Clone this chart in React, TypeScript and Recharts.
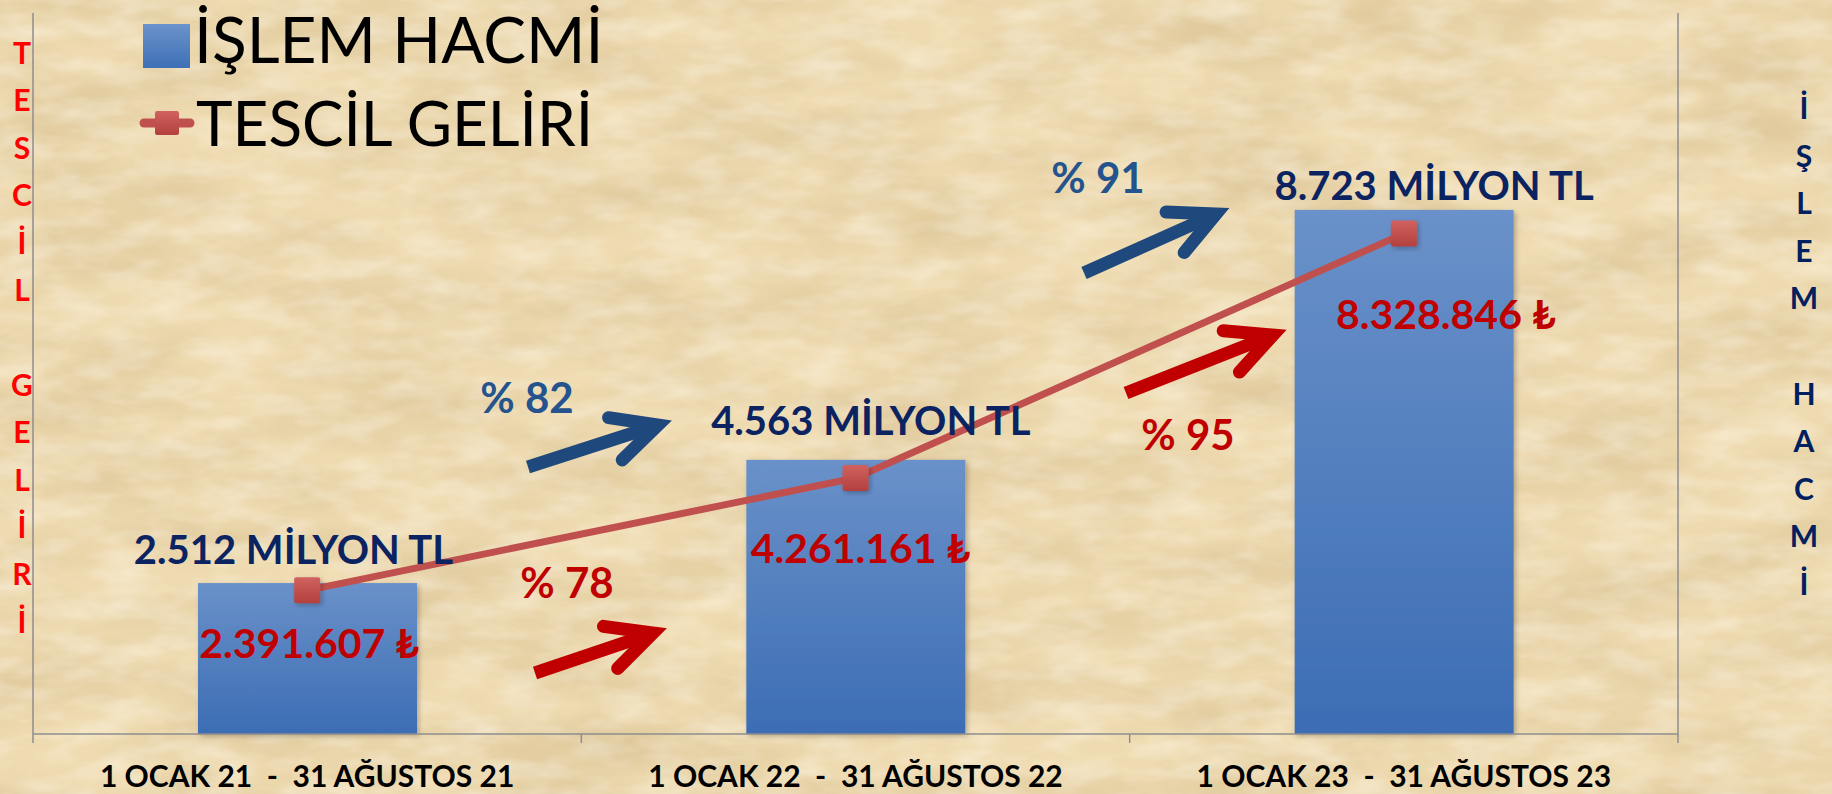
import React from 'react';
import { ComposedChart, Bar, Line, XAxis, YAxis, Legend, LabelList, Customized } from 'recharts';

// dönemler
const periods = [
  '1 OCAK 21  -  31 AĞUSTOS 21',
  '1 OCAK 22  -  31 AĞUSTOS 22',
  '1 OCAK 23  -  31 AĞUSTOS 23',
];
// işlem hacmi (milyon TL)
const islemHacmi = [2512, 4563, 8723];
// tescil geliri (TL)
const tescilGeliri = [2391607, 4261161, 8328846];
// dönemden döneme artış (%)
const hacimArtis = [82, 91];
const gelirArtis = [78, 95];

const gelirTicks = [0, 2000000, 4000000, 6000000, 8000000, 10000000, 12000000];
const hacimTicks = Array.from({ length: 121 }, (_, i) => i * 100);

const data = periods.map((period, i) => ({
  period,
  hacim: islemHacmi[i],
  gelir: tescilGeliri[i],
}));

const W = 1832;
const H = 794;
const LEFT_AXIS = 33;
const RIGHT_AXIS = 154;
const BAND = (W - LEFT_AXIS - RIGHT_AXIS) / periods.length;
const FONT = "Lato, 'DejaVu Sans', sans-serif";
const AXIS_GREY = '#8E8E8E';
const NAVY = '#0B2461';
const RED = '#C00000';
const BLUE = '#1F497D';

const paperSvg =
  "<svg xmlns='http://www.w3.org/2000/svg' width='1832' height='794'>" +
  "<filter id='f'><feTurbulence type='fractalNoise' baseFrequency='0.006 0.018' numOctaves='5' seed='7'/>" +
  "<feColorMatrix type='matrix' values='0 0 0 0 0.62  0 0 0 0 0.47  0 0 0 0 0.24  0.9 0 0 0 -0.3'/></filter>" +
  "<filter id='g'><feTurbulence type='fractalNoise' baseFrequency='0.02 0.05' numOctaves='3' seed='2'/>" +
  "<feColorMatrix type='matrix' values='0 0 0 0 1  0 0 0 0 0.97  0 0 0 0 0.88  0.8 0 0 0 -0.3'/></filter>" +
  "<rect width='100%' height='100%' fill='#EFDBB1'/>" +
  "<rect width='100%' height='100%' filter='url(#f)'/>" +
  "<rect width='100%' height='100%' filter='url(#g)'/>" +
  '</svg>';
const paper = `url("data:image/svg+xml,${encodeURIComponent(paperSvg)}")`;

// label nudges
const hacimLabelShift = [
  { dx: -14, dy: -34 },
  { dx: 15, dy: -40 },
  { dx: 30, dy: -25 },
];
const gelirLabelShift = [
  { dx: 2, dy: 52 },
  { dx: 5, dy: 70 },
  { dx: 42, dy: 80 },
];

const trNumber = (v: number) => v.toLocaleString('tr-TR');

function PeriodTick(props: any) {
  const { x, y, payload, index } = props;
  const last = index === periods.length - 1;
  return (
    <g>
      <line x1={x - BAND / 2} x2={x - BAND / 2} y1={y} y2={y + 9} stroke={AXIS_GREY} strokeWidth={1.5} />
      {last && <line x1={x + BAND / 2} x2={x + BAND / 2} y1={y} y2={y + 9} stroke={AXIS_GREY} strokeWidth={1.5} />}
      <text
        x={x}
        y={y + 41}
        textAnchor="middle"
        dominantBaseline="central"
        fontFamily={FONT}
        fontWeight={700}
        fontSize={30}
        fill="#000"
        style={{ whiteSpace: 'pre' }}
      >
        {payload.value}
      </text>
    </g>
  );
}

function HacimLabel(props: any) {
  const vb = props.viewBox || props;
  const x = vb.x ?? props.x;
  const y = vb.y ?? props.y;
  const w = vb.width ?? props.width;
  const s = hacimLabelShift[props.index] || { dx: 0, dy: -30 };
  return (
    <text
      x={x + w / 2 + s.dx}
      y={y + s.dy}
      textAnchor="middle"
      dominantBaseline="central"
      fontFamily={FONT}
      fontWeight={700}
      fontSize={40}
      fill={NAVY}
    >
      {`${trNumber(props.value)} MİLYON TL`}
    </text>
  );
}

function GelirLabel(props: any) {
  const vb = props.viewBox || props;
  const x = vb.x ?? props.x;
  const y = vb.y ?? props.y;
  const s = gelirLabelShift[props.index] || { dx: 0, dy: 50 };
  return (
    <text
      x={x + s.dx}
      y={y + s.dy}
      textAnchor="middle"
      dominantBaseline="central"
      fontFamily={FONT}
      fontWeight={700}
      fontSize={41}
      fill={RED}
    >
      {`${trNumber(props.value)} ₺`}
    </text>
  );
}

function SquareDot(props: any) {
  const { cx, cy } = props;
  if (cx == null || cy == null) return null;
  return <rect x={cx - 13} y={cy - 13} width={26} height={26} rx={2} fill="url(#dotGrad)" filter="url(#softShadow)" />;
}

function BarShape(props: any) {
  const { x, y, width, height } = props;
  return <rect x={x} y={y} width={width} height={height} fill="url(#barGrad)" filter="url(#softShadow)" />;
}

function Arrow({ x1, y1, x2, y2, color }: { x1: number; y1: number; x2: number; y2: number; color: string }) {
  const a = Math.atan2(y2 - y1, x2 - x1);
  const L = 50;
  const h = 0.46;
  const ax = x2 - L * Math.cos(a - h);
  const ay = y2 - L * Math.sin(a - h);
  const bx = x2 - L * Math.cos(a + h);
  const by = y2 - L * Math.sin(a + h);
  return (
    <g>
      <line x1={x1} y1={y1} x2={x2 - 4 * Math.cos(a)} y2={y2 - 4 * Math.sin(a)} stroke={color} strokeWidth={13} />
      <path
        d={`M${ax},${ay} L${x2},${y2} L${bx},${by}`}
        fill="none"
        stroke={color}
        strokeWidth={13}
        strokeLinecap="round"
        strokeLinejoin="miter"
      />
    </g>
  );
}

function Annotations() {
  const leftTitle = 'TESCİL GELİRİ'.split('');
  const rightTitle = 'İŞLEM HACMİ'.split('');
  const pct = { fontFamily: FONT, fontWeight: 700, fontSize: 42 } as const;
  const letter = { fontFamily: FONT, fontWeight: 700, fontSize: 30 } as const;
  return (
    <g>
      <Arrow x1={528} y1={467} x2={658} y2={425} color={BLUE} />
      <Arrow x1={535} y1={673} x2={653} y2={633} color={RED} />
      <Arrow x1={1084} y1={273} x2={1216} y2={214} color={BLUE} />
      <Arrow x1={1126} y1={393} x2={1273} y2={335} color={RED} />
      <text x={527} y={397} textAnchor="middle" dominantBaseline="central" fill="#24538D" {...pct}>
        {`% ${hacimArtis[0]}`}
      </text>
      <text x={1098} y={177} textAnchor="middle" dominantBaseline="central" fill="#24538D" {...pct}>
        {`% ${hacimArtis[1]}`}
      </text>
      <text x={567} y={582} textAnchor="middle" dominantBaseline="central" fill={RED} {...pct}>
        {`% ${gelirArtis[0]}`}
      </text>
      <text x={1188} y={434} textAnchor="middle" dominantBaseline="central" fill={RED} {...pct}>
        {`% ${gelirArtis[1]}`}
      </text>
      {leftTitle.map((ch, i) => (
        <text key={`l${i}`} x={22} y={52 + i * 47.4} textAnchor="middle" dominantBaseline="central" fill="#FF0000" {...letter}>
          {ch}
        </text>
      ))}
      {rightTitle.map((ch, i) => (
        <text key={`r${i}`} x={1804} y={107 + i * 47.6} textAnchor="middle" dominantBaseline="central" fill="#002060" {...letter}>
          {ch}
        </text>
      ))}
    </g>
  );
}

function LegendContent(props: any) {
  const items = props.payload || [];
  const bar = items.find((it: any) => it.dataKey === 'hacim');
  const line = items.find((it: any) => it.dataKey === 'gelir');
  return (
    <svg width={640} height={165} style={{ display: 'block', overflow: 'visible' }}>
      <defs>
        <linearGradient id="legBar" x1="0" y1="0" x2="0" y2="1">
          <stop offset="0%" stopColor="#6B93CB" />
          <stop offset="100%" stopColor="#3E70B6" />
        </linearGradient>
        <linearGradient id="legDot" x1="0" y1="0" x2="0" y2="1">
          <stop offset="0%" stopColor="#D0625F" />
          <stop offset="100%" stopColor="#B3403D" />
        </linearGradient>
      </defs>
      {bar && (
        <g>
          <rect x={143} y={24} width={47} height={44} fill="url(#legBar)" />
          <text x={194} y={63} fontFamily={FONT} fontSize={64} fill="#000">
            {bar.value}
          </text>
        </g>
      )}
      {line && (
        <g>
          <line x1={144} x2={190} y1={123} y2={123} stroke="#C0504D" strokeWidth={9} strokeLinecap="round" />
          <rect x={155} y={111} width={24} height={24} rx={2} fill="url(#legDot)" />
          <text x={196} y={146} fontFamily={FONT} fontSize={62} fill="#000">
            {line.value}
          </text>
        </g>
      )}
    </svg>
  );
}

export default function App() {
  return (
    <div
      style={{
        position: 'absolute',
        left: 0,
        top: 0,
        width: W,
        height: H,
        backgroundColor: '#EFDBB1',
        backgroundImage: paper,
        overflow: 'hidden',
      }}
    >
      <ComposedChart width={W} height={H} data={data} margin={{ top: 13, right: 0, bottom: 0, left: 0 }}>
        <defs>
          <linearGradient id="barGrad" x1="0" y1="0" x2="0" y2="1">
            <stop offset="0%" stopColor="#6A91C9" />
            <stop offset="100%" stopColor="#3C6DB4" />
          </linearGradient>
          <linearGradient id="dotGrad" x1="0" y1="0" x2="0" y2="1">
            <stop offset="0%" stopColor="#D0625F" />
            <stop offset="100%" stopColor="#B3403D" />
          </linearGradient>
          <filter id="softShadow" x="-20%" y="-20%" width="140%" height="140%">
            <feDropShadow dx="2" dy="2" stdDeviation="2.5" floodColor="#000" floodOpacity="0.25" />
          </filter>
        </defs>
        <XAxis
          dataKey="period"
          height={60}
          axisLine={{ stroke: AXIS_GREY, strokeWidth: 1.5 }}
          tickLine={false}
          tickSize={0}
          tickMargin={0}
          interval={0}
          tick={<PeriodTick />}
        />
        <YAxis
          yAxisId="gelir"
          width={LEFT_AXIS}
          domain={[0, 12000000]}
          ticks={gelirTicks}
          interval={0}
          tick={false}
          tickSize={7}
          axisLine={{ stroke: AXIS_GREY, strokeWidth: 1.5 }}
          tickLine={{ stroke: AXIS_GREY, strokeWidth: 1.5 }}
        />
        <YAxis
          yAxisId="hacim"
          orientation="right"
          width={RIGHT_AXIS}
          domain={[0, 12000]}
          ticks={hacimTicks}
          interval={0}
          tick={false}
          tickSize={5}
          axisLine={{ stroke: AXIS_GREY, strokeWidth: 1.5 }}
          tickLine={{ stroke: AXIS_GREY, strokeWidth: 1 }}
        />
        <Legend
          layout="horizontal"
          verticalAlign="middle"
          align="center"
          content={<LegendContent />}
          wrapperStyle={{ left: 0, top: 0, width: 640, height: 165 }}
        />
        <Bar
          yAxisId="hacim"
          dataKey="hacim"
          name="İŞLEM HACMİ"
          barSize={219}
          fill="#4F81BD"
          shape={<BarShape />}
          isAnimationActive={false}
        >
          <LabelList dataKey="hacim" content={<HacimLabel />} />
        </Bar>
        <Line
          yAxisId="gelir"
          dataKey="gelir"
          name="TESCİL GELİRİ"
          type="linear"
          stroke="#C0504D"
          strokeWidth={7}
          dot={<SquareDot />}
          activeDot={false}
          isAnimationActive={false}
        >
          <LabelList dataKey="gelir" content={<GelirLabel />} />
        </Line>
        <Customized component={<Annotations />} />
      </ComposedChart>
    </div>
  );
}
